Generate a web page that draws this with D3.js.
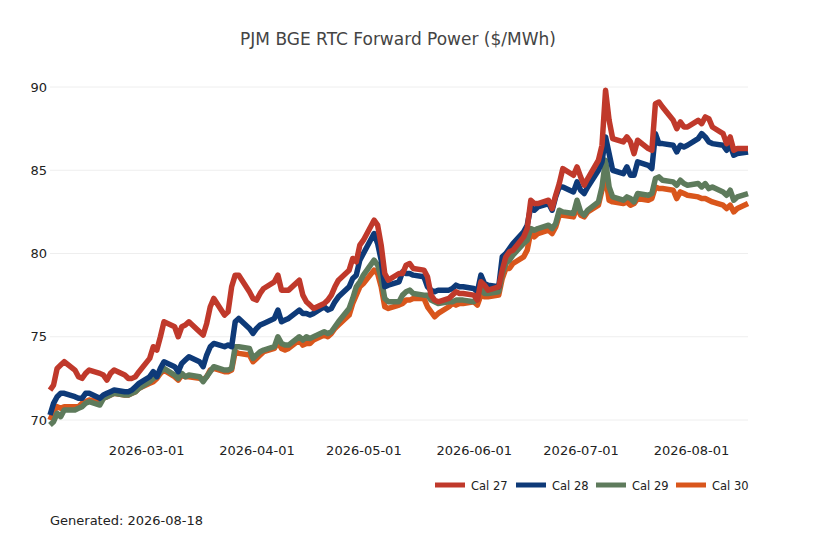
<!DOCTYPE html>
<html>
<head>
<meta charset="utf-8">
<script src="https://cdn.jsdelivr.net/npm/d3@7"></script>
<style>
  body { margin: 0; background: #fff; }
  svg { font-family: "DejaVu Sans", sans-serif; }
</style>
</head>
<body>
<script>
// trading days, Mon 2026-02-02 .. Mon 2026-08-17
const startDay = new Date(2026, 1, 2);
const endDay = new Date(2026, 7, 17);
const days = d3.timeDay.range(startDay, d3.timeDay.offset(endDay, 1))
  .filter(d => d.getDay() !== 0 && d.getDay() !== 6);

const seriesNames = ["Cal 27", "Cal 28", "Cal 29", "Cal 30"];
const seriesColors = ["#c0392b", "#0e3a78", "#5e7b5c", "#d9561c"];

const cal27 = [
  71.8,72.1,73.1,73.3,73.5, 73.0,72.6,72.5,72.8,73.0, 72.8,72.7,72.4,72.8,73.0,
  72.7,72.5,72.5,72.6,72.9, 73.7,74.4,74.2,75.0,75.9, 75.6,75.0,75.6,75.7,75.9,
  75.3,75.1,75.8,76.8,77.3, 76.3,76.5,78.0,78.7,78.7, 77.7,77.3,77.2,77.6,77.9,
  78.3,78.7,77.8,77.8,77.8, 78.4,77.5,77.1,76.9,76.7, 77.0,77.2,77.5,78.0,78.4,
  79.0,79.7,79.5,80.5,80.8, 82.0,81.7,80.5,78.8,78.4, 78.8,78.8,79.3,79.4,79.1,
  79.0,78.6,77.5,77.2,77.1, 77.3,77.5,77.7,77.6,77.6, 77.5,77.2,78.3,78.1,77.8,
  78.0,79.0,79.8,80.1,80.2, 81.0,81.5,83.2,83.0,83.0, 83.2,82.7,83.5,84.2,85.1,
  84.7,85.2,84.6,84.1,84.5, 85.6,86.5,89.8,88.0,86.9, 86.7,87.0,86.7,86.0,86.8,
  86.3,86.2,89.0,89.1,88.8, 88.0,87.5,87.9,87.6,87.6, 88.0,87.8,88.2,88.1,87.6,
  87.2,86.6,87.0,86.2,86.3, 86.3
];
const cal28 = [
  70.3,71.0,71.4,71.6,71.6, 71.4,71.3,71.3,71.6,71.6, 71.3,71.5,71.6,71.7,71.8,
  71.7,71.7,71.8,72.0,72.2, 72.6,72.9,72.6,73.1,73.5, 73.2,72.9,73.4,73.6,73.8,
  73.5,73.2,73.9,74.4,74.6, 74.4,74.5,74.4,75.9,76.1, 75.5,75.2,75.5,75.7,75.8,
  76.1,76.6,75.9,76.0,76.1, 76.6,76.4,76.4,76.3,76.4, 76.8,76.6,76.7,77.1,77.4,
  78.0,78.5,78.7,79.6,80.0, 81.2,80.6,79.6,78.0,78.1, 78.3,78.9,78.8,78.8,78.7,
  78.6,78.0,77.8,77.7,77.8, 77.8,77.9,78.1,78.0,78.0, 77.9,77.7,78.7,78.2,78.1,
  78.0,79.8,80.0,80.3,80.6, 81.3,81.7,82.8,82.6,82.8, 83.0,82.6,83.4,84.0,84.0,
  83.7,84.3,83.8,83.6,84.0, 85.0,85.5,87.0,86.0,85.0, 84.8,85.2,84.7,84.7,85.5,
  85.3,85.1,87.2,86.6,86.6, 86.5,86.1,86.5,86.4,86.5, 86.9,87.2,87.0,86.7,86.6,
  86.5,86.2,86.5,85.9,86.0, 86.1
];
const cal29 = [
  69.7,69.9,70.4,70.2,70.6, 70.6,70.7,70.8,71.0,71.1, 70.9,71.3,71.4,71.5,71.6,
  71.5,71.5,71.6,71.7,71.9, 72.3,72.5,72.6,72.9,73.1, 72.7,72.5,72.8,72.6,72.7,
  72.6,72.3,72.6,72.9,73.2, 73.0,73.0,73.1,74.4,74.4, 74.3,73.7,73.9,74.1,74.2,
  74.4,75.0,74.6,74.5,74.5, 75.0,74.8,75.0,74.9,75.0, 75.3,75.2,75.3,75.6,75.9,
  76.7,77.3,78.0,78.3,78.7, 79.6,79.3,78.5,77.3,77.1, 77.1,77.5,77.7,77.8,77.6,
  77.5,77.5,77.2,77.1,77.0, 77.1,77.1,77.2,77.2,77.2, 77.1,77.3,78.0,77.6,77.6,
  77.7,78.8,79.4,79.6,79.9, 80.6,80.8,81.5,81.4,81.5, 81.7,81.5,81.8,82.6,82.5,
  82.4,83.2,82.5,82.3,82.6, 83.1,84.0,85.6,84.0,83.4, 83.2,83.4,83.3,83.1,83.6,
  83.5,83.6,84.5,84.6,84.4, 84.3,84.1,84.4,84.2,84.1, 84.2,84.0,84.2,83.9,84.0,
  83.7,83.5,83.8,83.2,83.4, 83.6
];
const cal30 = [
  70.0,70.5,70.8,70.7,70.8, 70.8,70.8,71.0,71.1,71.2, 71.1,71.3,71.4,71.5,71.6,
  71.5,71.5,71.6,71.7,71.9, 72.2,72.3,72.5,72.8,73.0, 72.6,72.4,72.7,72.6,72.6,
  72.5,72.4,72.6,73.0,73.1, 72.9,72.9,73.0,74.1,74.0, 73.9,73.5,73.7,73.9,74.1,
  74.3,74.7,74.3,74.2,74.3, 74.8,74.5,74.6,74.6,74.8, 75.1,75.0,75.2,75.5,75.7,
  76.3,77.0,77.5,78.0,78.2, 79.0,78.8,78.0,76.8,76.7, 76.9,77.0,77.2,77.2,77.3,
  77.3,76.8,76.5,76.2,76.4, 76.8,77.0,76.9,77.0,77.0, 77.1,76.9,77.5,77.4,77.4,
  77.5,78.5,79.1,79.1,79.4, 79.8,80.2,81.3,81.0,81.2, 81.4,81.2,81.6,82.3,82.3,
  82.2,82.8,82.3,82.2,82.5, 82.9,83.8,84.6,83.2,83.1, 83.0,83.1,82.9,83.0,83.3,
  83.2,83.3,84.0,83.9,83.9, 83.8,83.3,83.7,83.6,83.5, 83.4,83.3,83.3,83.2,83.1,
  82.9,82.7,82.9,82.5,82.7, 83.0
];
const seriesValues = [cal27, cal28, cal29, cal30];

const yTicks = [70, 75, 80, 85, 90];
const xTicks = ["2026-03-01", "2026-04-01", "2026-05-01", "2026-06-01", "2026-07-01", "2026-08-01"];
const titleText = "PJM BGE RTC Forward Power ($/MWh)";
const footText = "Generated: 2026-08-18";

// setting up
const W = 818, H = 545;
const svg = d3.select("body").append("svg").attr("width", W).attr("height", H);

const x = d3.scaleTime().domain([startDay, endDay]).range([50, 748]);
const y = d3.scaleLinear().domain([70, 90]).range([420, 87]);
const parse = d3.timeParse("%Y-%m-%d");

// grid
svg.append("g").selectAll("line").data(yTicks).join("line")
  .attr("x1", 50).attr("x2", 748)
  .attr("y1", d => y(d)).attr("y2", d => y(d))
  .attr("stroke", "#eeeeee").attr("stroke-width", 1);

// y axis labels
const yAxis = svg.append("g").attr("transform", "translate(47,0)")
  .call(d3.axisLeft(y).tickValues(yTicks).tickSize(0).tickPadding(0).tickFormat(d3.format("d")));
yAxis.select(".domain").remove();
yAxis.selectAll("text").attr("font-size", 13).attr("font-family", "DejaVu Sans").attr("fill", "#222");

// x axis labels
const xAxis = svg.append("g").attr("transform", "translate(0,446)")
  .call(d3.axisBottom(x).tickValues(xTicks.map(parse)).tickSize(0).tickPadding(0)
    .tickFormat(d3.timeFormat("%Y-%m-%d")));
xAxis.select(".domain").remove();
xAxis.selectAll("text").attr("font-size", 13).attr("font-family", "DejaVu Sans").attr("fill", "#222");

// lines, last series drawn first so Cal 27 sits on top
const line = d3.line().x((d, i) => x(days[i])).y(d => y(d));
const order = [3, 2, 1, 0];
svg.append("g").selectAll("path").data(order).join("path")
  .attr("d", i => line(seriesValues[i].slice(0, days.length)))
  .attr("fill", "none")
  .attr("stroke", i => seriesColors[i])
  .attr("stroke-width", 5.5)
  .attr("stroke-linejoin", "round");

// title
svg.append("text").attr("x", 398).attr("y", 45).attr("text-anchor", "middle")
  .attr("font-size", 17).attr("fill", "#444").text(titleText);

// legend
const legendX = [435, 516, 596, 676];
const lg = svg.append("g").selectAll("g").data(seriesNames).join("g")
  .attr("transform", (d, i) => `translate(${legendX[i]},485)`);
lg.append("line").attr("x1", 0).attr("x2", 30).attr("y1", 0).attr("y2", 0)
  .attr("stroke", (d, i) => seriesColors[i]).attr("stroke-width", 5);
lg.append("text").attr("x", 36).attr("y", 4.5).attr("font-size", 11.5).attr("fill", "#222").text(d => d);

// footer
svg.append("text").attr("x", 50).attr("y", 525).attr("font-size", 13).attr("fill", "#222").text(footText);
</script>
</body>
</html>
